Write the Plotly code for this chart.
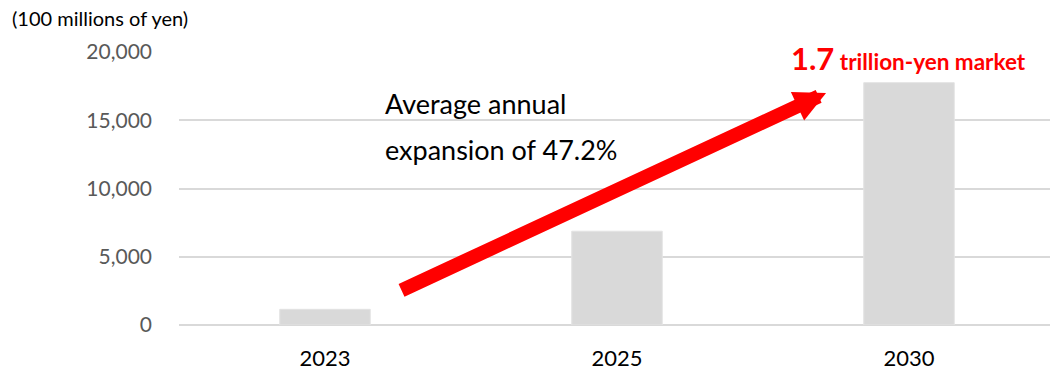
import plotly.graph_objects as go

categories = ["2023", "2025", "2030"]
values = [1150, 6870, 17750]
y_ticks = [0, 5000, 10000, 15000, 20000]
y_tick_labels = ["0", "5,000", "10,000", "15,000", "20,000"]

FONT = "Lato"

fig = go.Figure()
fig.add_trace(go.Bar(
    x=[0, 1, 2], y=values, width=0.31,
    marker=dict(color="#d9d9d9", line=dict(color="#e3e3e3", width=1)),
    hoverinfo="skip",
))

fig.update_layout(
    width=1050, height=371,
    margin=dict(l=179, r=0, t=52, b=46),
    paper_bgcolor="white", plot_bgcolor="white",
    showlegend=False,
    font=dict(family=FONT, color="#000000"),
    xaxis=dict(
        range=[-0.5, -0.5 + 871 / 292],
        tickvals=[0, 1, 2], ticktext=categories,
        showgrid=False, zeroline=False, showline=False,
        tickfont=dict(size=22, color="#000000", family=FONT),
        ticks="", ticklabelstandoff=18,
    ),
    yaxis=dict(
        range=[0, 20000],
        tickvals=y_ticks, ticktext=y_tick_labels,
        showgrid=True, gridcolor="#d9d9d9", gridwidth=1.5,
        zeroline=True, zerolinecolor="#d9d9d9", zerolinewidth=2,
        showline=False, ticks="",
        tickfont=dict(size=21, color="#595959", family=FONT),
        ticklabelstandoff=26,
    ),
)

fig.add_annotation(
    xref="paper", yref="paper", x=-179 / 871 + 10 / 871, y=1 + 34 / 273,
    xanchor="left", yanchor="middle", showarrow=False,
    text="(100 millions of yen)", font=dict(size=20, color="#000000", family=FONT),
)

fig.add_annotation(
    x=0.2, y=16200, xref="x", yref="y", xanchor="left", yanchor="middle",
    showarrow=False, text="Average annual",
    font=dict(size=27, color="#000000", family=FONT),
)
fig.add_annotation(
    x=0.2, y=12880, xref="x", yref="y", xanchor="left", yanchor="middle",
    showarrow=False, text="expansion of 47.2%",
    font=dict(size=27, color="#000000", family=FONT),
)

# growth arrow
fig.add_annotation(
    x=1.716, y=17000, ax=0.257, ay=2490,
    xref="x", yref="y", axref="x", ayref="y",
    text="", showarrow=True, arrowhead=2, arrowsize=0.45, arrowwidth=14,
    arrowcolor="#ff0000", standoff=0,
)

fig.add_annotation(
    x=1.997, y=19560, xref="x", yref="y", xanchor="center", yanchor="middle",
    showarrow=False,
    text="<b><span style='font-size:31px'>1.7</span> trillion-yen market</b>",
    font=dict(size=22.5, color="#ff0000", family=FONT),
)

fig.write_html("out.html")
